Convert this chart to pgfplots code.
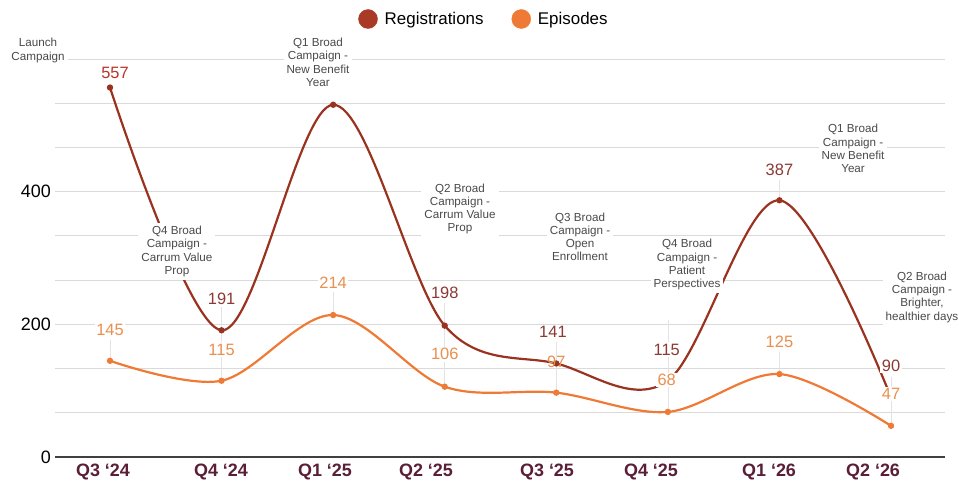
\documentclass[border=0pt]{standalone}
\usepackage{fontspec}
\setmainfont{Liberation Sans}
\usepackage{pgfplots}
\pgfplotsset{compat=1.18}
\definecolor{reg}{HTML}{9A3220}
\definecolor{regleg}{HTML}{A93A26}
\definecolor{regtxt}{HTML}{8C3A33}
\definecolor{regred}{HTML}{B8352A}
\definecolor{epi}{HTML}{EE7A35}
\definecolor{epitxt}{HTML}{E8904F}
\definecolor{tickc}{HTML}{5A1E36}
\definecolor{gridc}{HTML}{DADADA}
\definecolor{ann}{HTML}{4A4A4A}
\tikzset{dl/.style={font=\fontsize{16.5}{18}\selectfont, fill=white, inner sep=1.5bp}}
\tikzset{an/.style={font=\fontsize{11.7}{13.3}\selectfont, text=ann, fill=white, align=center, inner sep=3bp}}
\begin{document}
\begin{tikzpicture}
\begin{axis}[
  set layers,
  scale only axis, width=890bp, height=398bp,
  xmin=-0.493, xmax=7.484, ymin=0, ymax=600,
  axis line style={draw=none},
  ytick={0,200,400},
  minor ytick={66.667,133.333,266.667,333.333,466.667,533.333,600},
  ymajorgrids, yminorgrids,
  major grid style={gridc, line width=0.9bp},
  minor grid style={gridc, line width=0.9bp},
  major tick length=0pt, minor tick length=0pt,
  xtick={-0.063,0.995,1.927,2.832,3.917,4.849,5.907,6.839},
  xticklabels={Q3 ‘24,Q4 ‘24,Q1 ‘25,Q2 ‘25,Q3 ‘25,Q4 ‘25,Q1 ‘26,Q2 ‘26},
  xticklabel style={font=\fontsize{18}{20}\selectfont\bfseries, text=tickc, inner sep=2bp, yshift=-5bp},
  yticklabel style={font=\fontsize{18}{20}\selectfont, text=black, inner sep=4bp},
  /pgf/number format/assume math mode=true,
  clip=false,
  legend style={at={(0.482,1)}, anchor=center, yshift=40bp, draw=none, fill=none,
    legend columns=2, font=\fontsize{17}{19}\selectfont,
    /tikz/every odd column/.append style={column sep=5bp},
    /tikz/every even column/.append style={column sep=26bp}},
  legend image code/.code={\fill[#1] (0bp,0bp) circle (9.5bp);},
]
\coordinate (sw) at (rel axis cs:0,0);
\coordinate (ne) at (rel axis cs:1,1);
\addlegendimage{regleg}\addlegendentry{Registrations}
\addlegendimage{epi}\addlegendentry{Episodes}

% leader lines
\draw[gray!22, line width=0.7bp] (axis cs:0,176) -- (axis cs:0,145);
\draw[gray!22, line width=0.7bp] (axis cs:1,226) -- (axis cs:1,115);
\draw[gray!22, line width=0.7bp] (axis cs:2,248) -- (axis cs:2,214);
\draw[gray!22, line width=0.7bp] (axis cs:3,232) -- (axis cs:3,106);
\draw[gray!22, line width=0.7bp] (axis cs:4,174) -- (axis cs:4,97);
\draw[gray!22, line width=0.7bp] (axis cs:5,206) -- (axis cs:5,68);
\draw[gray!22, line width=0.7bp] (axis cs:6,418) -- (axis cs:6,387);
\draw[gray!22, line width=0.7bp] (axis cs:6,158) -- (axis cs:6,125);
\draw[gray!22, line width=0.7bp] (axis cs:7,120) -- (axis cs:7,47);

\addplot[reg, line width=2.2bp, smooth, tension=0.55, mark=*, mark size=2bp, forget plot]
  coordinates {(0,557) (1,191) (2,531) (3,198) (4,141) (5,115) (6,387) (7,90)};
\addplot[epi, line width=2.2bp, smooth, tension=0.55, mark=*, mark size=2bp, forget plot]
  coordinates {(0,145) (1,115) (2,214) (3,106) (4,97) (5,68) (6,125) (7,47)};

\begin{pgfonlayer}{axis foreground}
\draw[black!75, line width=1.3bp] (axis cs:-0.493,0) -- (axis cs:7.484,0);
\node[dl, text=regred] at (axis cs:0.045,579) {557};
\node[dl, text=regtxt] at (axis cs:1.0,239) {191};
\node[dl, text=regtxt] at (axis cs:3.0,247) {198};
\node[dl, text=regtxt] at (axis cs:3.97,188) {141};
\node[dl, text=regtxt] at (axis cs:4.99,162) {115};
\node[dl, text=regtxt] at (axis cs:6.0,433) {387};
\node[dl, text=regtxt] at (axis cs:7.0,137) {90};
\node[dl, text=epitxt] at (axis cs:0,191) {145};
\node[dl, text=epitxt] at (axis cs:1.0,162) {115};
\node[dl, text=epitxt] at (axis cs:2.0,262) {214};
\node[dl, text=epitxt] at (axis cs:3.0,155) {106};
\node[dl, text=epitxt, fill=none] at (axis cs:4.0,144) {97};
\node[dl, text=epitxt] at (axis cs:4.99,116) {68};
\node[dl, text=epitxt] at (axis cs:6.0,173) {125};
\node[dl, text=epitxt] at (axis cs:7.0,95) {47};
\node[an] at (axis cs:-0.645,613) {Launch\\Campaign};
\node[an] at (axis cs:0.60,310) {Q4 Broad\\Campaign -\\Carrum Value\\Prop};
\node[an] at (axis cs:1.864,595) {Q1 Broad\\Campaign -\\New Benefit\\Year};
\node[an] at (axis cs:3.137,374) {Q2 Broad\\Campaign -\\Carrum Value\\Prop};
\node[an] at (axis cs:4.213,332) {Q3 Broad\\Campaign -\\Open\\Enrollment};
\node[an] at (axis cs:5.172,290) {Q4 Broad\\Campaign -\\Patient\\Perspectives};
\node[an] at (axis cs:6.66,465) {Q1 Broad\\Campaign -\\New Benefit\\Year};
\node[an] at (axis cs:7.278,241) {Q2 Broad\\Campaign -\\Brighter,\\healthier days};
\end{pgfonlayer}
\end{axis}
\pgfresetboundingbox
\useasboundingbox ([shift={(-55bp,-24bp)}]sw) rectangle ([shift={(14bp,59bp)}]ne);
\end{tikzpicture}
\end{document}
